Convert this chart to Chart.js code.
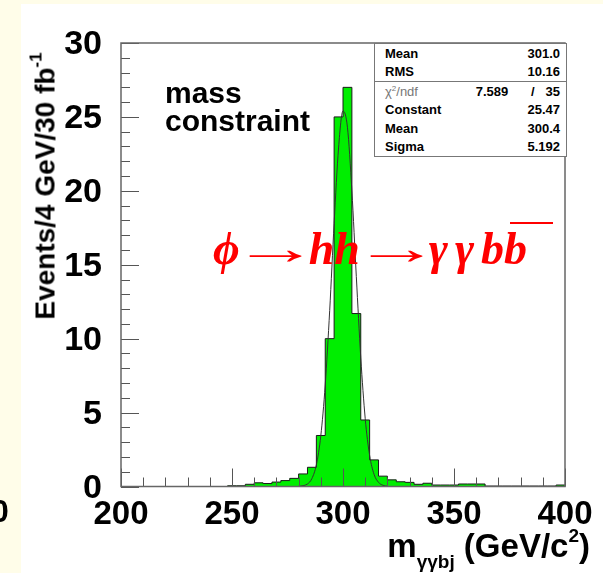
<!DOCTYPE html>
<html>
<head>
<meta charset="utf-8">
<script src="https://cdn.jsdelivr.net/npm/chart.js"></script>
<style>
  html, body { margin: 0; padding: 0; }
  body { width: 603px; height: 573px; position: relative; overflow: hidden; background: #fffde9; font-family: "Liberation Sans", Arial, sans-serif; }
  #paper { position: absolute; left: 21px; top: 4px; right: 0; bottom: 0; background: #fff; }
  #c { position: absolute; left: 0; top: 0; }
  .txt { position: absolute; white-space: nowrap; font-weight: bold; color: #000; }
  #ytitle { left: 44px; top: 186px; font-size: 28px; transform: translate(-50%, -50%) rotate(-90deg); }
  #ytitle sup { font-size: 17px; vertical-align: 13px; }
  #xtitle { right: 13px; top: 525px; font-size: 33px; }
  #xtitle sub { font-size: 19px; vertical-align: -11px; }
  #xtitle sup { font-size: 19px; vertical-align: 15px; }
  #mass { left: 165px; top: 79px; font-size: 30px; line-height: 28px; }
  #phys { left: 213px; top: 222px; font-family: "Liberation Serif", "Times New Roman", serif; font-style: italic; font-size: 46px; color: #ff0000; }
  #phys .ar { display: inline-block; font-style: normal; font-weight: bold; transform: scaleX(1.9); }
  #phys .a1 { margin: 0 10px 0 13px; }
  #phys .a2 { margin: 0 9px 0 14px; }
  #phys .g { letter-spacing: 7px; }
  #phys .bb { position: relative; display: inline-block; padding-right: 26px; }
  #phys .bb::after { content: ""; position: absolute; left: 6px; right: 0; top: 0; border-top: 2px solid #ff0000; }
  #cut { left: -9px; top: 493px; font-size: 32px; }
  #stats { position: absolute; left: 374px; top: 43px; width: 191px; border: 1px solid #777; background: #fff; font-size: 13px; font-weight: bold; }
  #stats table { width: 100%; border-collapse: collapse; }
  #stats td { padding: 0 6px 0 10px; height: 18.5px; }
  #stats td.v { text-align: right; }
  #stats tr.sep td { border-top: 1px solid #777; }
  #stats .chi { color: #777; font-weight: normal; }
</style>
</head>
<body>
<div id="paper"></div>
<canvas id="c" width="603" height="573"></canvas>
<div class="txt" id="ytitle">Events/4 GeV/30 fb<sup>-1</sup></div>
<div class="txt" id="xtitle">m<sub>γγbj</sub> (GeV/c<sup>2</sup>)</div>
<div class="txt" id="mass">mass<br>constraint</div>
<div class="txt" id="phys">&#981;<span class="ar a1">&rarr;</span>hh<span class="ar a2">&rarr;</span><span class="g">&gamma;&gamma;</span>b<span class="bb">b</span></div>
<div class="txt" id="cut">0</div>
<div id="stats">
  <table>
    <tr><td>Mean</td><td class="v" colspan="2">301.0</td></tr>
    <tr><td>RMS</td><td class="v" colspan="2">10.16</td></tr>
    <tr class="sep"><td class="chi">&chi;<sup style="font-size:8px">2</sup>/ndf</td><td class="v">7.589</td><td class="v">/&nbsp;&nbsp;&nbsp;35</td></tr>
    <tr><td>Constant</td><td class="v" colspan="2">25.47</td></tr>
    <tr><td>Mean</td><td class="v" colspan="2">300.4</td></tr>
    <tr><td>Sigma</td><td class="v" colspan="2">5.192</td></tr>
  </table>
</div>
<script>
// histogram: 4 GeV bins from 200 to 400 GeV
const binStart = 200;
const binWidth = 4;
const counts = [
  0, 0, 0, 0, 0, 0, 0, 0, 0, 0,            // 200-236
  0, 0, 0.05, 0.05, 0.15, 0.25, 0.2, 0.3, 0.4, 0.55,   // 240-276
  0.85, 1.3, 3.45, 10.0, 25.0, 27.0, 11.7, 4.5, 1.8, 0.7,   // 280-316
  0.45, 0.32, 0.28, 0.15, 0.22, 0.1, 0.1, 0.1, 0.17, 0.17,  // 320-356
  0.17, 0.03, 0.03, 0.03, 0.03, 0.03, 0.03, 0.03, 0.03, 0.1  // 360-396
];

// fitted gaussian as drawn on the plot
const fitX = [280, 284, 286, 288, 290, 292, 294, 296, 298, 300, 302, 304, 306, 308, 310, 312, 314, 316, 318, 320];
const fitY = [0.01, 0.17, 0.54, 1.47, 3.43, 6.88, 11.9, 17.8, 22.9, 25.4, 24.3, 20.0, 14.2, 8.73, 4.61, 2.10, 0.82, 0.28, 0.08, 0.02];

const xTicks = [200, 250, 300, 350, 400];
const yTicks = [0, 5, 10, 15, 20, 25, 30];

const histPoints = counts.map((v, i) => ({ x: binStart + i * binWidth, y: v }));
histPoints.push({ x: binStart + counts.length * binWidth, y: counts[counts.length - 1] });

// ROOT style frame with inward ticks
const frameTicks = {
  id: 'frameTicks',
  afterDatasetsDraw(chart) {
    const { ctx, chartArea: a, scales: { x, y } } = chart;
    ctx.save();
    ctx.strokeStyle = '#555';
    ctx.lineWidth = 1;
    for (let v = 200; v <= 400; v += 10) {
      const px = Math.round(x.getPixelForValue(v)) + 0.5;
      const len = v % 50 === 0 ? 18 : 9;
      ctx.beginPath(); ctx.moveTo(px, a.bottom); ctx.lineTo(px, a.bottom - len); ctx.stroke();
    }
    for (let v = 0; v <= 30; v += 1) {
      const py = Math.round(y.getPixelForValue(v)) + 0.5;
      const len = v % 5 === 0 ? 18 : 9;
      ctx.beginPath(); ctx.moveTo(a.left, py); ctx.lineTo(a.left + len, py); ctx.stroke();
    }
    ctx.strokeStyle = '#666';
    ctx.lineWidth = 1.5;
    ctx.strokeRect(a.left, a.top, a.right - a.left, a.bottom - a.top);
    ctx.restore();
  }
};

new Chart(document.getElementById('c').getContext('2d'), {
  type: 'line',
  data: {
    datasets: [
      {
        label: 'fit',
        data: fitX.map((x, i) => ({ x, y: fitY[i] })),
        borderColor: '#333',
        borderWidth: 1,
        pointRadius: 0,
        fill: false,
        cubicInterpolationMode: 'monotone'
      },
      {
        label: 'hist',
        data: histPoints,
        stepped: true,
        borderColor: '#1a1a1a',
        borderWidth: 1,
        backgroundColor: '#00ee00',
        fill: 'origin',
        pointRadius: 0
      }
    ]
  },
  options: {
    responsive: false,
    animation: false,
    layout: { padding: { left: 0, right: 38, top: 43, bottom: 0 } },
    plugins: { legend: { display: false }, tooltip: { enabled: false } },
    scales: {
      x: {
        type: 'linear', min: 200, max: 400,
        grid: { display: false }, border: { display: false },
        afterBuildTicks: s => { s.ticks = xTicks.map(v => ({ value: v })); },
        ticks: { font: { family: 'Liberation Sans', size: 33, weight: 'bold' }, color: '#000', padding: 1, maxRotation: 0, autoSkip: false },
        afterFit: s => { s.height = 86.5; }
      },
      y: {
        min: 0, max: 30,
        grid: { display: false }, border: { display: false },
        afterBuildTicks: s => { s.ticks = yTicks.map(v => ({ value: v })); },
        ticks: { font: { family: 'Liberation Sans', size: 34, weight: 'bold' }, color: '#000', padding: 11, labelOffset: 2, autoSkip: false },
        afterFit: s => { s.width = 121; }
      }
    }
  },
  plugins: [frameTicks]
});
</script>
</body>
</html>
